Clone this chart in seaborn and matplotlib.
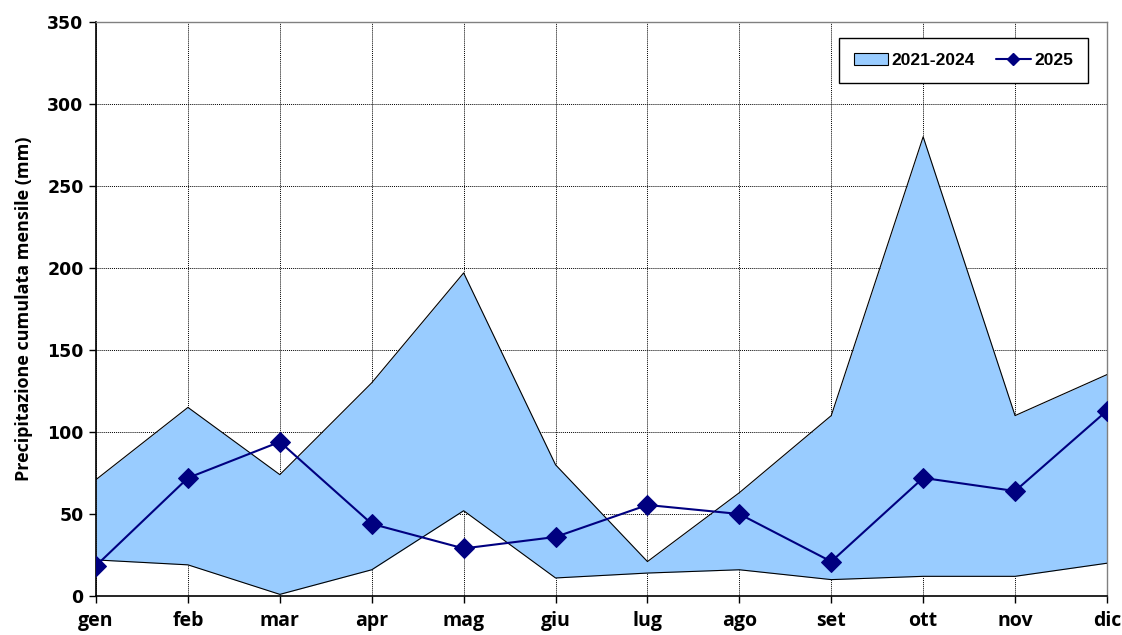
import matplotlib
matplotlib.use("Agg")
import matplotlib.pyplot as plt
import seaborn as sns
import numpy as np
import pandas as pd
from matplotlib.patches import Patch
from matplotlib.lines import Line2D

months = ["gen", "feb", "mar", "apr", "mag", "giu", "lug", "ago", "set", "ott", "nov", "dic"]
band_max = [71, 115, 74, 130, 197, 80, 21, 63, 110, 280, 110, 135]
band_min = [22, 19, 1, 16, 52, 11, 14, 16, 10, 12, 12, 20]
y2025 = [18.5, 72, 94, 44, 29, 36, 55.5, 50, 21, 72, 64, 113]
yticks = [0, 50, 100, 150, 200, 250, 300, 350]

sns.set_theme(style="white")
plt.rcParams['font.family'] = ['DejaVu Sans']
plt.rcParams['text.color'] = 'black'
plt.rcParams['xtick.color'] = 'black'
plt.rcParams['ytick.color'] = 'black'
plt.rcParams['axes.labelcolor'] = 'black'

fig = plt.figure(figsize=(11.22, 6.35), dpi=100)
ax = fig.add_axes([0.0856, 0.0614, 0.9010, 0.9040])

x = np.arange(len(months))
df = pd.DataFrame({"x": x, "max": band_max, "min": band_min, "y2025": y2025})

ax.fill_between(df["x"], df["min"], df["max"], color="#99CCFF", linewidth=0, zorder=2)
sns.lineplot(data=df, x="x", y="max", color="black", linewidth=0.8, ax=ax, zorder=3)
sns.lineplot(data=df, x="x", y="min", color="black", linewidth=0.8, ax=ax, zorder=3)
sns.lineplot(data=df, x="x", y="y2025", color="#000080", linewidth=1.5, marker="D",
             markersize=10, markeredgecolor="#000080", ax=ax, zorder=4)

ax.set_xlim(0, len(months) - 1)
ax.set_ylim(0, 350)
ax.set_xticks(x)
ax.set_xticklabels(months, fontsize=14, fontweight="bold", family="Open Sans")
ax.set_yticks(yticks)
ax.set_yticklabels([str(v) for v in yticks], fontsize=12.5, fontweight="bold")
ax.set_xlabel("")
ax.set_ylabel("Precipitazione cumulata mensile (mm)", fontsize=13, fontweight="bold",
              family="Open Sans", labelpad=10)

ax.grid(True, color="black", linestyle=(0, (1, 1)), linewidth=0.7, zorder=0)
ax.set_axisbelow(True)
for s in ["top", "right"]:
    ax.spines[s].set_color("#808080")
    ax.spines[s].set_linewidth(1)
for s in ["left", "bottom"]:
    ax.spines[s].set_color("black")
    ax.spines[s].set_linewidth(1.2)
ax.tick_params(axis="both", which="both", length=5, width=1, color="black", direction="out",
               left=True, bottom=True, pad=4)
ax.tick_params(axis="x", pad=6)

handles = [Patch(facecolor="#99CCFF", edgecolor="black", linewidth=0.8, label="2021-2024"),
           Line2D([0], [0], color="#000080", linewidth=1.5, marker="D", markersize=6, label="2025")]
leg = ax.legend(handles=handles, loc="upper right", bbox_to_anchor=(0.981, 0.972), ncol=2,
                frameon=True, fancybox=False, edgecolor="black", framealpha=1,
                prop={"weight": "bold", "size": 12.5, "family": "Liberation Sans"},
                handlelength=2.0, columnspacing=1.2, handletextpad=0.2, borderpad=0.85,
                borderaxespad=0)
leg.get_frame().set_linewidth(1)

fig.savefig("out.png", dpi=100)
